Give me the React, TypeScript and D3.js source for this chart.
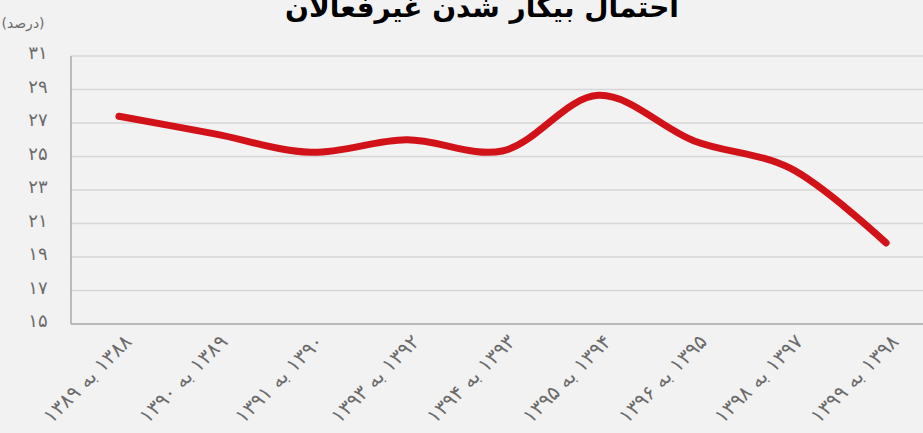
import React, { useEffect, useRef } from 'react';
import * as d3 from 'd3';

const categories = [
  '۱۳۸۸ به ۱۳۸۹',
  '۱۳۸۹ به ۱۳۹۰',
  '۱۳۹۰ به ۱۳۹۱',
  '۱۳۹۲ به ۱۳۹۳',
  '۱۳۹۳ به ۱۳۹۴',
  '۱۳۹۴ به ۱۳۹۵',
  '۱۳۹۵ به ۱۳۹۶',
  '۱۳۹۷ به ۱۳۹۸',
  '۱۳۹۸ به ۱۳۹۹',
];
const values = [27.4, 26.35, 25.25, 26.0, 25.33, 28.65, 25.93, 24.3, 19.84];
const yTicks = [15, 17, 19, 21, 23, 25, 27, 29, 31];

const TITLE = 'احتمال بیکار شدن غیرفعالان';
const UNIT = '(درصد)';

const WIDTH = 923;
const HEIGHT = 433;
const FONT = '"DejaVu Sans", "Noto Sans", sans-serif';

const toPersian = (n: number) => String(n).replace(/\d/g, d => '۰۱۲۳۴۵۶۷۸۹'[+d]);

export default function App() {
  const svgRef = useRef<SVGSVGElement | null>(null);

  useEffect(() => {
    document.body.style.margin = '0';
    if (!svgRef.current) return;
    const svg = d3.select(svgRef.current);
    svg.selectAll('*').remove();

    const left = 71;
    const top = 56;
    const bottom = 324;

    const x = d3.scalePoint<string>().domain(categories).range([left, 934]).padding(0.5);
    const y = d3.scaleLinear().domain([15, 31]).range([bottom, top]);

    svg.append('rect').attr('width', WIDTH).attr('height', HEIGHT).attr('fill', '#f2f2f2');

    // gridlines
    svg.append('g')
      .selectAll('line')
      .data(yTicks.filter(t => t !== 15))
      .join('line')
      .attr('x1', left)
      .attr('x2', WIDTH)
      .attr('y1', d => y(d))
      .attr('y2', d => y(d))
      .attr('stroke', '#d6d6d6')
      .attr('stroke-width', 1.5);

    // axes
    svg.append('line')
      .attr('x1', left).attr('x2', left)
      .attr('y1', top).attr('y2', bottom)
      .attr('stroke', '#a8a8a8').attr('stroke-width', 1.5);
    svg.append('line')
      .attr('x1', left).attr('x2', WIDTH)
      .attr('y1', bottom).attr('y2', bottom)
      .attr('stroke', '#a8a8a8').attr('stroke-width', 1.5);

    // y labels
    svg.append('g')
      .selectAll('text')
      .data(yTicks)
      .join('text')
      .attr('x', 38)
      .attr('y', d => y(d) - 2)
      .attr('text-anchor', 'middle')
      .attr('dominant-baseline', 'middle')
      .attr('font-family', FONT)
      .attr('font-size', 18)
      .attr('fill', '#6b6b6b')
      .text(d => toPersian(d));

    // x labels
    svg.append('g')
      .selectAll('text')
      .data(categories)
      .join('text')
      .attr('transform', d => `translate(${(x(d) ?? 0) + 10},${339}) rotate(-45)`)
      .attr('direction', 'rtl')
      .attr('text-anchor', 'start')
      .attr('dominant-baseline', 'middle')
      .attr('font-family', FONT)
      .attr('font-size', 20)
      .attr('fill', '#6b6b6b')
      .text(d => d);

    // line
    const line = d3.line<number>()
      .x((_, i) => x(categories[i]) ?? 0)
      .y(d => y(d))
      .curve(d3.curveCatmullRom.alpha(0.5));

    svg.append('path')
      .datum(values)
      .attr('d', line)
      .attr('fill', 'none')
      .attr('stroke', '#d11219')
      .attr('stroke-width', 7)
      .attr('stroke-linecap', 'round')
      .attr('stroke-linejoin', 'round');

    // title + unit
    svg.append('text')
      .attr('x', 482)
      .attr('y', 17)
      .attr('text-anchor', 'middle')
      .attr('direction', 'rtl')
      .attr('font-family', FONT)
      .attr('font-size', 28)
      .attr('font-weight', 700)
      .attr('fill', '#000')
      .text(TITLE);

    svg.append('text')
      .attr('x', 23)
      .attr('y', 28)
      .attr('text-anchor', 'middle')
      .attr('direction', 'rtl')
      .attr('font-family', FONT)
      .attr('font-size', 14)
      .attr('fill', '#6b6b6b')
      .text(UNIT);
  }, []);

  return (
    <svg
      ref={svgRef}
      width={WIDTH}
      height={HEIGHT}
      style={{ display: 'block', position: 'absolute', left: 0, top: 0 }}
    />
  );
}
